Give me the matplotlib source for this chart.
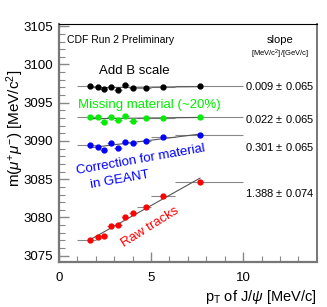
import numpy as np
import matplotlib.pyplot as plt
from matplotlib.ticker import MultipleLocator, FixedLocator

plt.rcParams["font.family"] = ["Liberation Sans", "DejaVu Sans"]
plt.rcParams["mathtext.fontset"] = "custom"
plt.rcParams["mathtext.rm"] = "Liberation Sans"
plt.rcParams["mathtext.it"] = "Liberation Sans:italic"

# pT bin centres and bin edges (GeV/c)
pt = [1.68, 2.13, 2.45, 2.83, 3.21, 3.59, 4.02, 4.72, 5.65, 7.66]
pt_lo = [1.0, 2.0, 2.25, 2.6, 3.0, 3.4, 3.8, 4.25, 5.0, 6.3]
pt_hi = [2.0, 2.25, 2.6, 3.0, 3.4, 3.8, 4.25, 5.0, 6.3, 10.0]

# J/psi mass per bin (MeV/c^2)
m_bscale = [3097.22, 3097.00, 3096.79, 3097.09, 3096.66, 3097.31, 3096.88, 3096.96, 3097.09, 3097.18]
m_missing = [3093.14, 3093.10, 3092.52, 3093.10, 3092.74, 3093.31, 3092.65, 3092.97, 3093.04, 3093.17]
m_geant = [3089.45, 3089.26, 3088.83, 3089.71, 3089.13, 3089.88, 3089.79, 3090.05, 3090.57, 3090.79]
m_raw = [3077.00, 3077.49, 3077.58, 3078.92, 3079.05, 3080.01, 3080.53, 3081.31, 3082.75, 3084.70]
m_err = 0.15

slopes = ["0.009 $\\pm$ 0.065", "0.022 $\\pm$ 0.065", "0.301 $\\pm$ 0.065", "1.388 $\\pm$ 0.074"]
slope_y = [3097.2, 3092.9, 3089.2, 3083.2]

fig = plt.figure(figsize=(3.27, 3.07), dpi=100)
ax = fig.add_axes([0.180, 0.147, 0.789, 0.775])

pt_arr = np.array(pt)
xerr = [pt_arr - np.array(pt_lo), np.array(pt_hi) - pt_arr]

series = [
    (m_bscale, "black"),
    (m_missing, "#00ee00"),
    (m_geant, "#0000ff"),
    (m_raw, "#ff0000"),
]
for vals, col in series:
    ax.errorbar(pt, vals, xerr=xerr, yerr=m_err, fmt="none",
                ecolor="#888888", elinewidth=0.8, capsize=0, zorder=1)
    # linear fit drawn over the measured range
    p = np.polyfit(pt, vals, 1)
    xf = np.array([pt[0], pt[-1]])
    ax.plot(xf, np.polyval(p, xf), color="#555555", linewidth=0.8, zorder=2)
    ax.plot(pt, vals, "o", color=col, markersize=3.5, zorder=3)

ax.set_xlim(0, 14)
ax.set_ylim(3074.2, 3105.3)

ax.xaxis.set_major_locator(FixedLocator([0, 5, 10]))
ax.xaxis.set_minor_locator(MultipleLocator(1))
ax.yaxis.set_major_locator(MultipleLocator(5))
ax.yaxis.set_minor_locator(MultipleLocator(1))
ax.tick_params(which="both", direction="in", top=False, right=False,
               labelsize=9.5, color="#888888")
ax.tick_params(which="major", length=7, width=1)
ax.tick_params(which="minor", length=4, width=0.8)
ax.tick_params(axis="x", pad=7)
ax.tick_params(axis="y", pad=4)

for s in ["left", "bottom"]:
    ax.spines[s].set_linewidth(1.6)
    ax.spines[s].set_color("#777777")
ax.spines["top"].set_linewidth(0.8)
ax.spines["right"].set_linewidth(1.4)
ax.spines["right"].set_color("#777777")

ax.set_ylabel("m($\\mu^{+}\\mu^{-}$) [MeV/c$^{2}$]", fontsize=11)
ax.yaxis.set_label_coords(-0.128, 0.56)
ax.set_xlabel("p$_{\\rm T}$ of J/$\\psi$ [MeV/c]", fontsize=10.5, loc="right", labelpad=3)

ax.text(0.03, 0.955, "CDF Run 2 Preliminary", transform=ax.transAxes,
        fontsize=7.5, va="top", ha="left")
ax.text(12.0, 3103.2, "slope", fontsize=8, ha="center", va="center")
ax.text(12.0, 3101.3, "[MeV/c$^{2}$]/[GeV/c]", fontsize=5.5, ha="center", va="center")

ax.text(4.08, 3099.1, "Add B scale", fontsize=9.5, color="black", ha="center", va="center")
ax.text(4.9, 3094.7, "Missing material (~20%)", fontsize=9.5, color="#00ee00",
        ha="center", va="center")
ax.text(4.45, 3087.5, "Correction for material", fontsize=9.5, color="#0000ff",
        ha="center", va="center", rotation=10)
ax.text(3.32, 3084.9, "in GEANT", fontsize=9.5, color="#0000ff",
        ha="center", va="center", rotation=10)
ax.text(4.95, 3078.7, "Raw tracks", fontsize=9.5, color="#ff0000",
        ha="center", va="center", rotation=32)

for sy, st in zip(slope_y, slopes):
    ax.text(10.1, sy, st, fontsize=8, ha="left", va="center")

fig.savefig("out.png", dpi=100)
